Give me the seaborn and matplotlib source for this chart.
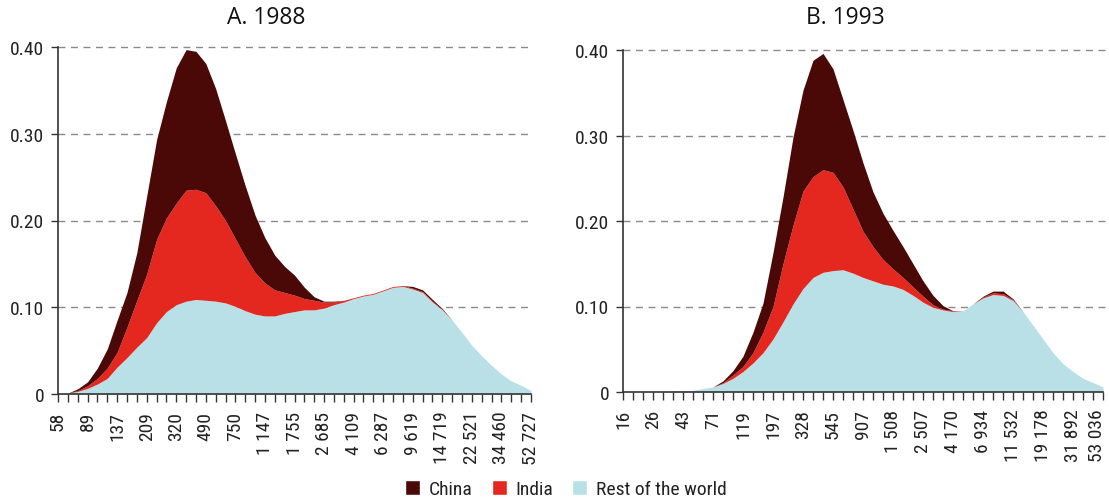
import numpy as np
import matplotlib
matplotlib.use("Agg")
import matplotlib.pyplot as plt
import matplotlib.transforms as mtransforms
import seaborn as sns
from matplotlib import font_manager
from matplotlib.patches import Patch

# ---------------- data ----------------
labels_1988 = ["58", "89", "137", "209", "320", "490", "750", "1 147", "1 755", "2 685",
               "4 109", "6 287", "9 619", "14 719", "22 521", "34 460", "52 727"]
labels_1993 = ["16", "26", "43", "71", "119", "197", "328", "545", "907", "1 508",
               "2 507", "4 170", "6 934", "11 532", "19 178", "31 892", "53 036"]

# 49 income points per panel (every third one is labelled)
rest_1988 = [0, .001, .003, .0065, .0115, .018, .031, .042, .054, .065, .082, .095, .103,
             .107, .109, .108, .107, .105, .101, .096, .092, .090, .090, .093, .095, .097,
             .097, .099, .103, .106, .110, .113, .115, .119, .123, .124, .121, .117, .106,
             .097, .085, .071, .056, .044, .033, .023, .015, .010, .004]
india_1988 = [0, 0, .001, .003, .0065, .012, .017, .035, .054, .073, .096, .108, .117,
              .128, .127, .124, .110, .095, .078, .062, .048, .038, .030, .024, .019, .013,
              .011, .007, .003, .002, .001, .001, .001, .001, .001, .001, .001, .001, .001,
              .0005, 0, 0, 0, 0, 0, 0, 0, 0, 0]
china_1988 = [0, 0, .002, .0045, .012, .022, .037, .040, .055, .090, .115, .134, .156,
              .162, .159, .149, .135, .115, .098, .082, .066, .052, .040, .030, .023, .013,
              .004, .001, .001, 0, 0, 0, 0, 0, 0, 0, .002, .002, .002,
              .001, 0, 0, 0, 0, 0, 0, 0, 0, 0]

rest_1993 = [0, 0, 0, 0, 0, .0005, .0015, .002, .004, .006, .010, .016, .024, .034, .046,
             .062, .082, .103, .121, .134, .140, .142, .143, .139, .134, .130, .126, .124,
             .120, .113, .105, .099, .096, .094, .095, .103, .110, .114, .113, .107, .094,
             .078, .062, .046, .033, .024, .016, .011, .006]
india_1993 = [0, 0, 0, 0, 0, 0, 0, 0, 0, 0, .001, .004, .006, .012, .024, .038, .068, .092,
              .114, .118, .120, .115, .097, .075, .054, .040, .029, .020, .014, .010, .007,
              .003, .001, .001, 0, 0, .001, .002, .002, .001, 0, 0, 0, 0, 0, 0, 0, 0, 0]
china_1993 = [0, 0, 0, 0, 0, 0, 0, 0, 0, 0, .002, .005, .012, .024, .034, .063, .078, .103,
              .118, .136, .136, .121, .102, .092, .080, .064, .054, .045, .036, .027, .018,
              .011, .004, 0, 0, 0, .001, .002, .003, .001, 0, 0, 0, 0, 0, 0, 0, 0, 0]

series_names = ["China", "India", "Rest of the world"]
y_ticks = [0, 0.10, 0.20, 0.30, 0.40]
y_ticklabels = ["0", "0.10", "0.20", "0.30", "0.40"]

# ---------------- style ----------------
C_CHINA, C_INDIA, C_REST = "#4a0807", "#e5281f", "#b9e0e6"
palette = sns.color_palette([C_REST, C_INDIA, C_CHINA])

sns.set_theme(style="ticks")
names = {f.name for f in font_manager.fontManager.ttflist}
if "Liberation Sans Narrow" in names:
    main_font, fs = "Liberation Sans Narrow", 14
elif "Roboto Condensed" in names:
    main_font, fs = "Roboto Condensed", 14
else:
    main_font, fs = "Roboto", 13
plt.rcParams["font.family"] = [main_font, "DejaVu Sans"]
title_font = ["Open Sans", "DejaVu Sans"]

W, H = 1109, 502
fig = plt.figure(figsize=(W / 100, H / 100), dpi=100)
fig.patch.set_facecolor("white")

axA = fig.add_axes([58 / W, 107 / H, 473 / W, 347 / H])
axB = fig.add_axes([623 / W, 109 / H, 480 / W, 342 / H])


def draw(ax, rest, india, china, labels, grid_extend):
    x = np.arange(len(rest))
    ax.stackplot(x, rest, india, china, colors=palette, linewidth=0, zorder=2)
    for y in y_ticks[1:]:
        ax.axhline(y, xmin=0, xmax=grid_extend, color="#8a8a8a", lw=1.0,
                   ls=(0, (5, 4)), zorder=0.5, clip_on=False)
    ax.set_xlim(0, len(rest) - 1)
    ax.set_ylim(0, 0.4)
    ax.set_yticks(y_ticks)
    ax.set_yticklabels(y_ticklabels)
    ax.set_xticks(x)
    ax.set_xticklabels([labels[i // 3] if i % 3 == 0 else "" for i in x])
    ax.tick_params(axis="x", length=6, width=1, color="#333333", pad=6,
                   labelrotation=90, labelsize=fs, labelcolor="#222222")
    ax.tick_params(axis="y", length=5, width=1, color="#333333", pad=5,
                   labelsize=fs, labelcolor="#222222")
    sns.despine(ax=ax)
    for s in ("left", "bottom"):
        ax.spines[s].set_color("#333333")
        ax.spines[s].set_linewidth(1.2)
        ax.spines[s].set_zorder(3)
    ax.set_facecolor("none")
    ax.grid(False)


draw(axA, rest_1988, india_1988, china_1988, labels_1988, 1.0)
draw(axB, rest_1993, india_1993, china_1993, labels_1993, (W - 623) / 480)

# keep the last label of panel B inside the figure
last = axB.get_xticklabels()[-1]
last.set_transform(last.get_transform() +
                   mtransforms.ScaledTranslation(-6 / 100, 0, fig.dpi_scale_trans))

fig.text(266 / W, 1 - 18 / H, "A. 1988", ha="center", va="center",
         fontsize=16.5, family=title_font, color="#111111")
fig.text(845 / W, 1 - 18 / H, "B. 1993", ha="center", va="center",
         fontsize=16.5, family=title_font, color="#111111")

handles = [Patch(facecolor=C_CHINA, label=series_names[0]),
           Patch(facecolor=C_INDIA, label=series_names[1]),
           Patch(facecolor=C_REST, label=series_names[2])]
fig.legend(handles=handles, loc="center", bbox_to_anchor=(566 / W, 1 - 490 / H),
           ncol=3, frameon=False, handlelength=0.75, handleheight=0.8,
           handletextpad=0.45, columnspacing=1.0, fontsize=fs,
           labelcolor="#222222", borderaxespad=0, borderpad=0)

fig.savefig("out.png", dpi=100, facecolor="white")
